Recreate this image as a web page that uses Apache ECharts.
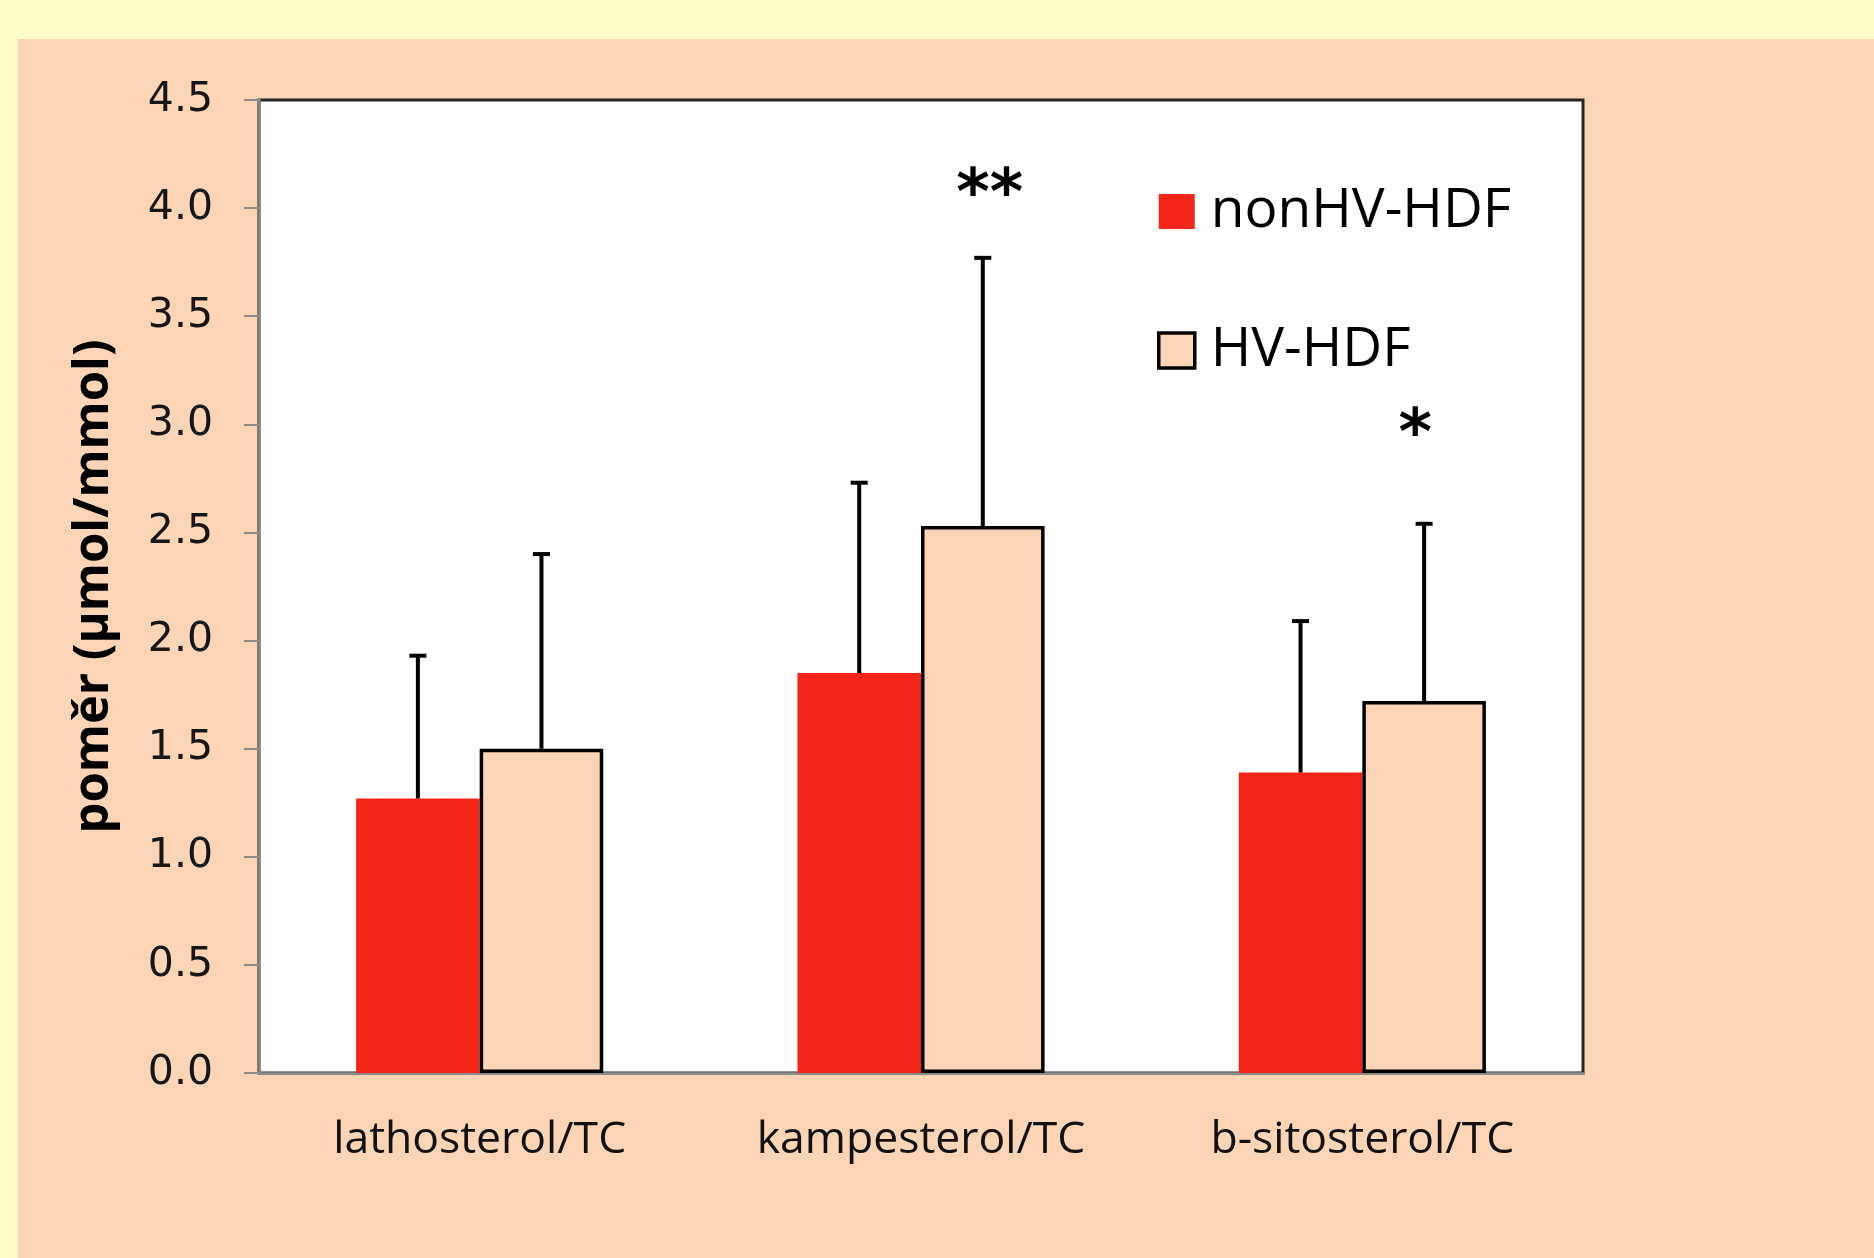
<!DOCTYPE html>
<html>
<head>
<meta charset="utf-8">
<script src="https://cdn.jsdelivr.net/npm/echarts@6/dist/echarts.min.js"></script>
<style>
html,body{margin:0;padding:0;background:#FFFDC9;}
#chart{width:1874px;height:1258px;}
</style>
</head>
<body>
<div id="chart"></div>
<script>
// ---- data ----
const categories = ['lathosterol/TC', 'kampesterol/TC', 'b-sitosterol/TC'];
const seriesNames = ['nonHV-HDF', 'HV-HDF'];
const nonHVMean  = [1.27, 1.85, 1.39];
const nonHVUpper = [1.93, 2.73, 2.09];   // mean + SD (top of error bar)
const hvMean     = [1.50, 2.53, 1.72];
const hvUpper    = [2.40, 3.77, 2.54];
const starLabels = ['', '**', '*'];      // significance marks above HV-HDF
const starValues = [null, 4.05, 2.94];
const yTicks = [0, 0.5, 1.0, 1.5, 2.0, 2.5, 3.0, 3.5, 4.0, 4.5];

const chart = echarts.init(document.getElementById('chart'));
const BAR_FRAC = 0.28; // each bar = 28% of category band (gap 44%)
const STAR_DX = [0, 7, -9]; // small manual nudges of the marks (style)

function errRender(side) {
  return function (params, api) {
    const idx = api.value(0);
    const c = api.coord([idx, api.value(1)]);
    const t = api.coord([idx, api.value(2)]);
    const bw = api.size([1, 0])[0] * BAR_FRAC;
    const cx = c[0] + side * bw / 2;
    return {
      type: 'group',
      children: [
        {type: 'line', shape: {x1: cx, y1: c[1], x2: cx, y2: t[1]}, style: {stroke: '#000', lineWidth: 4}},
        {type: 'line', shape: {x1: cx - 8.5, y1: t[1], x2: cx + 8.5, y2: t[1]}, style: {stroke: '#000', lineWidth: 4}}
      ]
    };
  };
}

function starRender(params, api) {
  const idx = api.value(0);
  const p = api.coord([idx, api.value(1)]);
  const bw = api.size([1, 0])[0] * BAR_FRAC;
  return {
    type: 'text',
    style: {
      text: starLabels[idx], x: p[0] + bw / 2 + STAR_DX[idx], y: p[1],
      textAlign: 'center', textVerticalAlign: 'middle',
      font: 'bold 64px "DejaVu Sans"', fill: '#000'
    }
  };
}

const option = {
  backgroundColor: '#FFFDC9',
  animation: false,
  graphic: [{
    type: 'rect', left: 18, top: 39, z: -10,
    shape: {width: 1874 - 18, height: 1258 - 39},
    style: {fill: '#FBD5B5'}
  }],
  grid: {
    left: 259, right: 291, top: 100, bottom: 185,
    show: true, backgroundColor: '#ffffff',
    borderColor: '#262626', borderWidth: 3
  },
  legend: {
    orient: 'vertical', left: 1157, top: 184,
    itemWidth: 36, itemHeight: 35, itemGap: 84,
    icon: 'rect', padding: 0,
    textStyle: {fontFamily: 'Open Sans', fontSize: 55, color: '#000', lineHeight: 35, padding: [0, 0, 0, 11]},
    data: [
      {name: seriesNames[0]},
      {name: seriesNames[1], itemStyle: {borderColor: '#000', borderWidth: 3.5}}
    ]
  },
  xAxis: {
    type: 'category', data: categories,
    axisTick: {show: false},
    axisLine: {lineStyle: {color: '#8c8c8c', width: 2.5}},
    axisLabel: {fontFamily: 'Open Sans', fontSize: 44.5, color: '#111', margin: 45}
  },
  yAxis: {
    type: 'value', min: 0, max: 4.5, interval: 0.5,
    name: 'poměr (μmol/mmol)', nameLocation: 'middle', nameGap: 140, nameRotate: 90,
    nameTextStyle: {fontFamily: 'Open Sans', fontWeight: 'bold', fontSize: 49, color: '#000'},
    axisLine: {show: true, lineStyle: {color: '#8c8c8c', width: 2.5}},
    axisTick: {show: true, length: 15, lineStyle: {color: '#8c8c8c', width: 2}},
    splitLine: {show: false},
    axisLabel: {
      fontFamily: 'DejaVu Sans', fontSize: 41, color: '#161616', margin: 46,
      formatter: v => yTicks.indexOf(v) >= 0 ? v.toFixed(1) : ''
    }
  },
  series: [
    {
      name: seriesNames[0], type: 'bar', data: nonHVMean,
      barGap: '0%', barCategoryGap: '44%',
      itemStyle: {color: '#F4261A'}
    },
    {
      name: seriesNames[1], type: 'bar', data: hvMean,
      barGap: '0%', barCategoryGap: '44%',
      itemStyle: {color: '#FBD5B5', borderColor: '#000', borderWidth: 3.5}
    },
    {
      type: 'custom', renderItem: errRender(-1), z: 5,
      data: categories.map((c, i) => [i, nonHVMean[i], nonHVUpper[i]])
    },
    {
      type: 'custom', renderItem: errRender(1), z: 5,
      data: categories.map((c, i) => [i, hvMean[i], hvUpper[i]])
    },
    {
      type: 'custom', renderItem: starRender, z: 6,
      data: categories.map((c, i) => [i, starValues[i]]).filter(d => d[1] !== null)
    }
  ]
};
chart.setOption(option);
</script>
</body>
</html>
